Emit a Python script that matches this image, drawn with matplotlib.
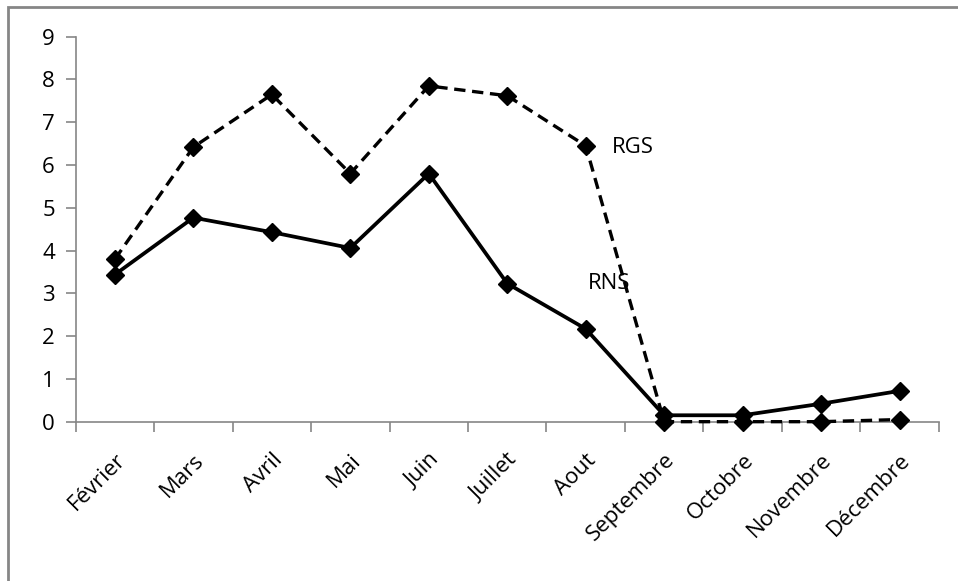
import matplotlib.pyplot as plt
from matplotlib.patches import Rectangle

mois = ['Février', 'Mars', 'Avril', 'Mai', 'Juin', 'Juillet', 'Aout',
        'Septembre', 'Octobre', 'Novembre', 'Décembre']
rgs = [3.8, 6.42, 7.65, 5.8, 7.85, 7.62, 6.45, 0.0, 0.0, 0.0, 0.05]
rns = [3.44, 4.77, 4.43, 4.06, 5.8, 3.23, 2.17, 0.15, 0.15, 0.42, 0.72]

plt.rcParams['font.family'] = ['Open Sans', 'DejaVu Sans']
grey = '#868686'
fs = 16

fig = plt.figure(figsize=(9.58, 5.81), dpi=100)
ax = fig.add_axes([0.079, 0.2742, 0.901, 0.6626])

x = list(range(len(mois)))
ax.plot(x, rgs, color='black', lw=2.4, ls=(0, (3.4, 2)), marker='D', ms=9.5,
        clip_on=False, zorder=3)
ax.plot(x, rns, color='black', lw=2.7, marker='D', ms=9.5,
        clip_on=False, zorder=4)

ax.text(6.33, 6.4, 'RGS', fontsize=fs, va='center', ha='left')
ax.text(6.03, 3.24, 'RNS', fontsize=fs, va='center', ha='left')

ax.set_xlim(-0.5, len(mois) - 0.5)
ax.set_ylim(0, 9)
ax.set_yticks(range(10))

# category labels centred, tick marks between categories
ax.set_xticks(x)
ax.set_xticklabels(mois, rotation=45, ha='right', va='top',
                   rotation_mode='anchor', fontsize=fs)
ax.tick_params(axis='x', which='major', length=0, pad=20)
ax.set_xticks([i - 0.5 for i in range(len(mois) + 1)], minor=True)
ax.tick_params(axis='x', which='minor', length=7, color=grey, width=1.2)
ax.tick_params(axis='y', length=7, color=grey, width=1.2, labelsize=fs, pad=8)

for side in ['top', 'right']:
    ax.spines[side].set_visible(False)
for side in ['left', 'bottom']:
    ax.spines[side].set_color(grey)
    ax.spines[side].set_linewidth(1.2)

# outer frame, cut off at right and bottom
fig.patches.append(Rectangle((8 / 958, -0.1), 1.0, 1.1 - 7 / 581,
                             transform=fig.transFigure, fill=False,
                             edgecolor=grey, lw=2))

fig.savefig('out.png', dpi=100)
